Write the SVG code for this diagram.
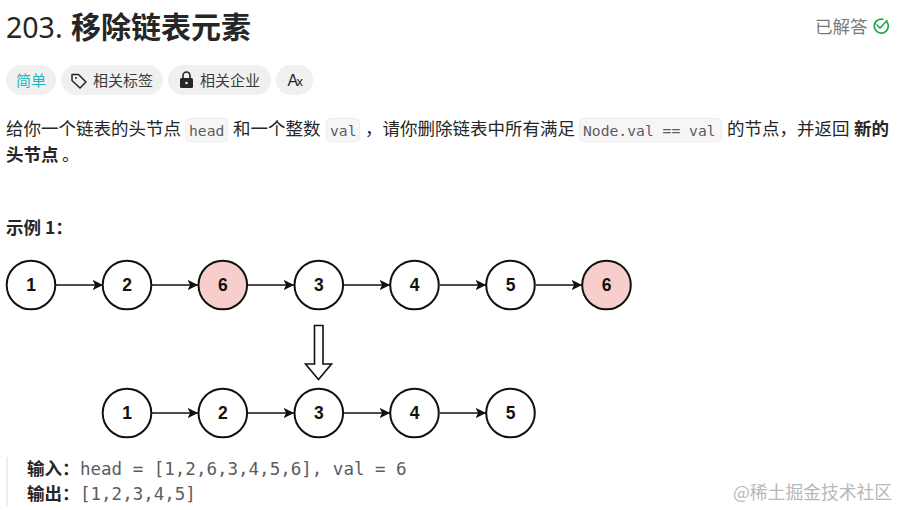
<svg xmlns="http://www.w3.org/2000/svg" width="899" height="510" viewBox="0 0 899 510">
<style>
text{font-family:"Noto Sans CJK SC","Liberation Sans",sans-serif;fill:#262626}
.body{font-size:17.5px}
.b{font-weight:700}
.mono{font-family:"DejaVu Sans Mono","Noto Sans CJK SC",monospace;fill:#5c5c5f}
.code{font-size:14.7px}
.pre{font-size:17.5px}
.chip{fill:#f0f0f0}
.cbox{fill:#f6f6f7;stroke:#ececee}
.tag{font-size:15px;fill:#3c3c3c}
.n circle{fill:#fff;stroke:#111;stroke-width:2}
.n.del circle{fill:#f8cecc}
.n text{font-family:"Liberation Sans",Arial,sans-serif;font-size:17.5px;font-weight:700;text-anchor:middle;fill:#111}
.c{stroke:#111;stroke-width:1.4;fill:none;marker-end:url(#a)}
</style>
<defs><marker id="a" markerUnits="userSpaceOnUse" markerWidth="12" markerHeight="12" refX="10.500" refY="6" orient="auto"><path d="M0 0.800L10.500 6L0 11.200L2.600 6Z" fill="#111"/></marker></defs>
<rect width="899" height="510" fill="#fff"/>
<text x="6" y="38" font-size="28.500" style="font-family:'Noto Sans','Liberation Sans',sans-serif">203.</text>
<text x="71" y="38" font-size="30" class="b">移除链表元素</text>
<text x="815" y="33" font-size="17.5" style="fill:#7a7a7a">已解答</text>
<g fill="none" stroke="#1fa84a" stroke-width="1.6"><path d="M886.500 21.500A7 7 0 1 1 883.500 19.500"/><path d="M877 25L880 28L887 20.500" stroke-linecap="round"/></g>
<rect class="chip" x="6" y="65" width="50" height="30" rx="15"/>
<text x="16" y="86" class="tag" style="fill:#1cb8b8">简单</text>
<rect class="chip" x="61" y="65" width="102" height="30" rx="15"/>
<path d="M72 74.500V80.500L80 88L86 82L78.500 74.500Z" fill="none" stroke="#262626" stroke-width="1.500" stroke-linejoin="round"/><circle cx="76" cy="78" r="1" fill="#262626"/>
<text x="93" y="86" class="tag">相关标签</text>
<rect class="chip" x="168" y="65" width="103" height="30" rx="15"/>
<rect x="180" y="78" width="13" height="10" rx="1.500" fill="#262626"/><path d="M183 78V75.500a3.500 3.500 0 0 1 7 0V78" fill="none" stroke="#262626" stroke-width="1.600"/><circle cx="186.500" cy="83" r="1.300" fill="#f0f0f0"/>
<text x="200" y="86" class="tag">相关企业</text>
<rect class="chip" x="276" y="65" width="37" height="30" rx="15"/>
<text x="287.500" y="85.500" font-size="16" style="font-family:'Liberation Sans',sans-serif">A</text><text x="296.500" y="85.500" font-size="13" style="font-family:'Liberation Sans',sans-serif">x</text>
<text x="6" y="135" class="body">给你一个链表的头节点</text>
<rect class="cbox" x="185.500" y="118.500" width="42" height="23" rx="4"/>
<text x="189" y="136" class="mono code">head</text>
<text x="233" y="135" class="body">和一个整数</text>
<rect class="cbox" x="326.500" y="118.500" width="33" height="23" rx="4"/>
<text x="330" y="136" class="mono code">val</text>
<text x="365" y="135" class="body">，请你删除链表中所有满足</text>
<rect class="cbox" x="579.500" y="118.500" width="142" height="23" rx="4"/>
<text x="583" y="136" class="mono code">Node.val == val</text>
<text x="727" y="135" class="body">的节点，并返回</text>
<text x="854" y="135" class="body b">新的</text>
<text x="6" y="161" class="body b">头节点</text>
<text x="62" y="161" class="body">。</text>
<text x="6" y="234" class="body b">示例 1：</text>
<g id="connectors">
<path class="c" d="M56 285H103"/><path class="c" d="M152 285H198"/><path class="c" d="M248 285H294"/><path class="c" d="M344 285H390"/><path class="c" d="M440 285H486"/><path class="c" d="M536 285H582"/>
<path class="c" d="M152 413H198"/><path class="c" d="M248 413H294"/><path class="c" d="M344 413H390"/><path class="c" d="M440 413H486"/>
</g>
<g id="n1" class="n"><circle cx="31" cy="285" r="24.300"/><text x="31" y="291">1</text></g>
<g id="n2" class="n"><circle cx="127" cy="285" r="24.300"/><text x="127" y="291">2</text></g>
<g id="n3" class="n del"><circle cx="222.800" cy="285" r="24.300"/><text x="222.800" y="291">6</text></g>
<g id="n4" class="n"><circle cx="318.800" cy="285" r="24.300"/><text x="318.800" y="291">3</text></g>
<g id="n5" class="n"><circle cx="414.500" cy="285" r="24.300"/><text x="414.500" y="291">4</text></g>
<g id="n6" class="n"><circle cx="510.500" cy="285" r="24.300"/><text x="510.500" y="291">5</text></g>
<g id="n7" class="n del"><circle cx="606.500" cy="285" r="24.300"/><text x="606.500" y="291">6</text></g>
<g id="arrow"><path d="M314.500 325.500H323V364H331.500L318.500 379.500L305.500 364H314.500Z" fill="#fff" stroke="#111" stroke-width="1.600"/></g>
<g id="m1" class="n"><circle cx="127" cy="413" r="24.300"/><text x="127" y="419">1</text></g>
<g id="m2" class="n"><circle cx="222.800" cy="413" r="24.300"/><text x="222.800" y="419">2</text></g>
<g id="m3" class="n"><circle cx="318.800" cy="413" r="24.300"/><text x="318.800" y="419">3</text></g>
<g id="m4" class="n"><circle cx="414.500" cy="413" r="24.300"/><text x="414.500" y="419">4</text></g>
<g id="m5" class="n"><circle cx="510.500" cy="413" r="24.300"/><text x="510.500" y="419">5</text></g>
<rect x="6" y="457" width="2" height="50" fill="#eeeeee"/>
<text x="27" y="475" class="body b">输入：</text>
<text x="80" y="475" class="mono pre">head = [1,2,6,3,4,5,6], val = 6</text>
<text x="27" y="500" class="body b">输出：</text>
<text x="80" y="500" class="mono pre">[1,2,3,4,5]</text>
<text x="733" y="499" font-size="17.800" style="fill:#b8b8b8">@稀土掘金技术社区</text>
</svg>
